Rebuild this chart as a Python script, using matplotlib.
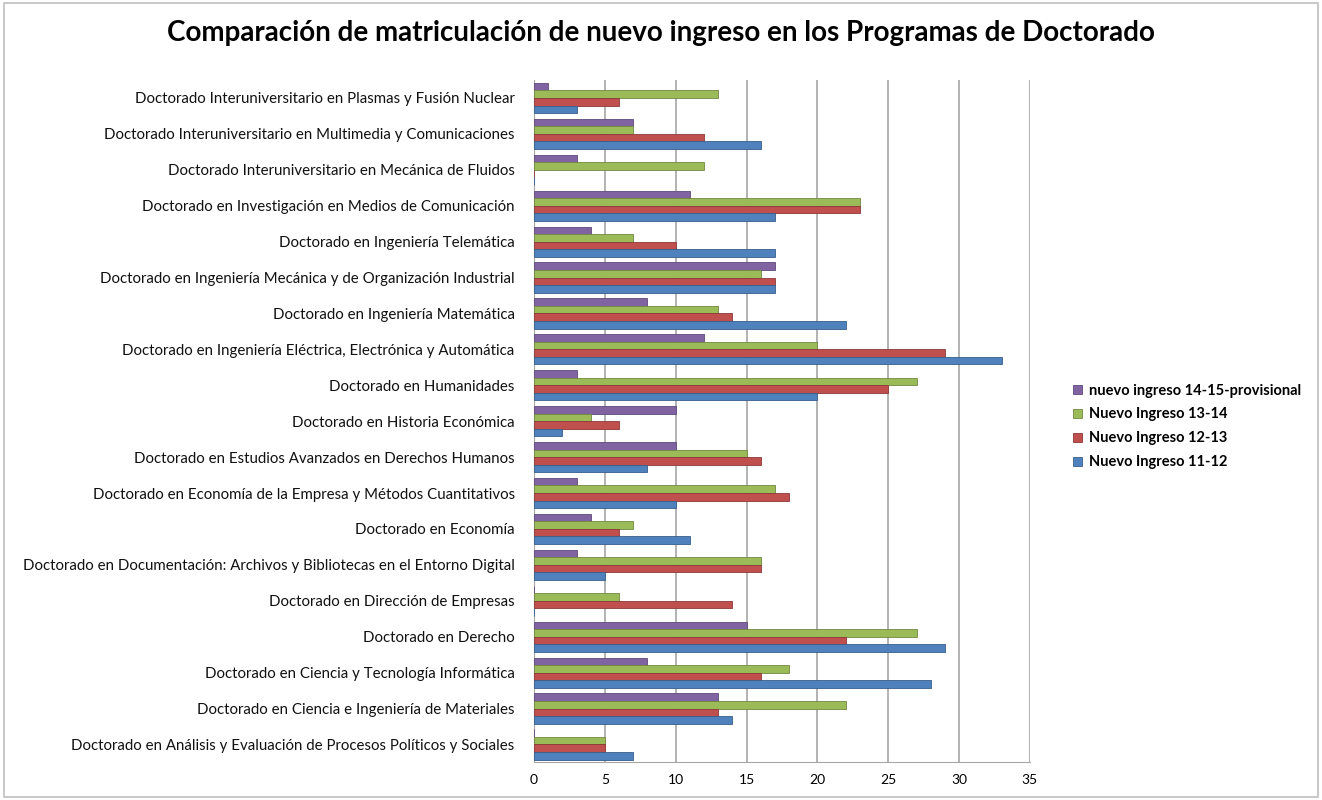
import numpy as np
import matplotlib.pyplot as plt
from matplotlib.patches import Rectangle

# -----------------------------
# Data (top row first)
# -----------------------------
programas = [
    "Doctorado Interuniversitario en Plasmas y Fusión Nuclear",
    "Doctorado Interuniversitario en Multimedia y Comunicaciones",
    "Doctorado Interuniversitario en Mecánica de Fluidos",
    "Doctorado en Investigación en Medios de Comunicación",
    "Doctorado en Ingeniería Telemática",
    "Doctorado en Ingeniería Mecánica y de Organización Industrial",
    "Doctorado en Ingeniería Matemática",
    "Doctorado en Ingeniería Eléctrica, Electrónica y Automática",
    "Doctorado en Humanidades",
    "Doctorado en Historia Económica",
    "Doctorado en Estudios Avanzados en Derechos Humanos",
    "Doctorado en Economía de la Empresa y Métodos Cuantitativos",
    "Doctorado en Economía",
    "Doctorado en Documentación: Archivos y Bibliotecas en el Entorno Digital",
    "Doctorado en Dirección de Empresas",
    "Doctorado en Derecho",
    "Doctorado en Ciencia y Tecnología Informática",
    "Doctorado en Ciencia e Ingeniería de Materiales",
    "Doctorado en Análisis y Evaluación de Procesos Políticos y Sociales",
]

ingreso_14_15 = [1, 7, 3, 11, 4, 17, 8, 12, 3, 10, 10, 3, 4, 3, 0, 15, 8, 13, 0]
ingreso_13_14 = [13, 7, 12, 23, 7, 16, 13, 20, 27, 4, 15, 17, 7, 16, 6, 27, 18, 22, 5]
ingreso_12_13 = [6, 12, 0, 23, 10, 17, 14, 29, 25, 6, 16, 18, 6, 16, 14, 22, 16, 13, 5]
ingreso_11_12 = [3, 16, 0, 17, 17, 17, 22, 33, 20, 2, 8, 10, 11, 5, 0, 29, 28, 14, 7]

series = [
    ("nuevo ingreso 14-15-provisional", ingreso_14_15, "#8064A2", "#5E4A7A"),
    ("Nuevo Ingreso 13-14", ingreso_13_14, "#9BBB59", "#71893F"),
    ("Nuevo Ingreso 12-13", ingreso_12_13, "#C0504D", "#8C3735"),
    ("Nuevo Ingreso 11-12", ingreso_11_12, "#4F81BD", "#375E8C"),
]

plt.rcParams["font.family"] = ["Lato", "DejaVu Sans"]

fig = plt.figure(figsize=(13.22, 8), dpi=100)
ax = fig.add_axes([0.404, 0.047, 0.375, 0.853])

y = np.arange(len(programas))
h = 0.21
for i, (name, vals, color, edge) in enumerate(series):
    ax.barh(y + (i - 1.5) * h, vals, height=h, color=color,
            edgecolor=edge, linewidth=0.6, label=name, zorder=3)

ax.set_ylim(len(programas) - 0.5, -0.5)
ax.set_xlim(0, 35)
ax.set_xticks(range(0, 36, 5))
ax.set_yticks(y)
ax.set_yticklabels(programas, fontsize=10.8, color="#111111")
ax.tick_params(axis="y", length=0, pad=14)
ax.tick_params(axis="x", length=0, pad=8, labelsize=10)
ax.xaxis.grid(True, color="#A6A6A6", linewidth=1.2, zorder=0)
for s in ["top", "right"]:
    ax.spines[s].set_visible(False)
ax.spines["left"].set_color("#A6A6A6")
ax.spines["bottom"].set_color("#A6A6A6")

fig.suptitle("Comparación de matriculación de nuevo ingreso en los Programas de Doctorado",
             fontsize=20, fontweight="bold", y=0.975)

handles, labels = ax.get_legend_handles_labels()
fig.legend(handles, labels, loc="center left", bbox_to_anchor=(0.802, 0.467),
           frameon=False, prop={"size": 10.5, "weight": "bold"},
           handlelength=0.6, handleheight=0.6, labelspacing=0.68,
           handletextpad=0.5)

fig.patches.append(Rectangle((0.003, 0.004), 0.994, 0.992, transform=fig.transFigure,
                             fill=False, edgecolor="#BFBFBF", linewidth=1.2))

fig.savefig("out.png", dpi=100)
